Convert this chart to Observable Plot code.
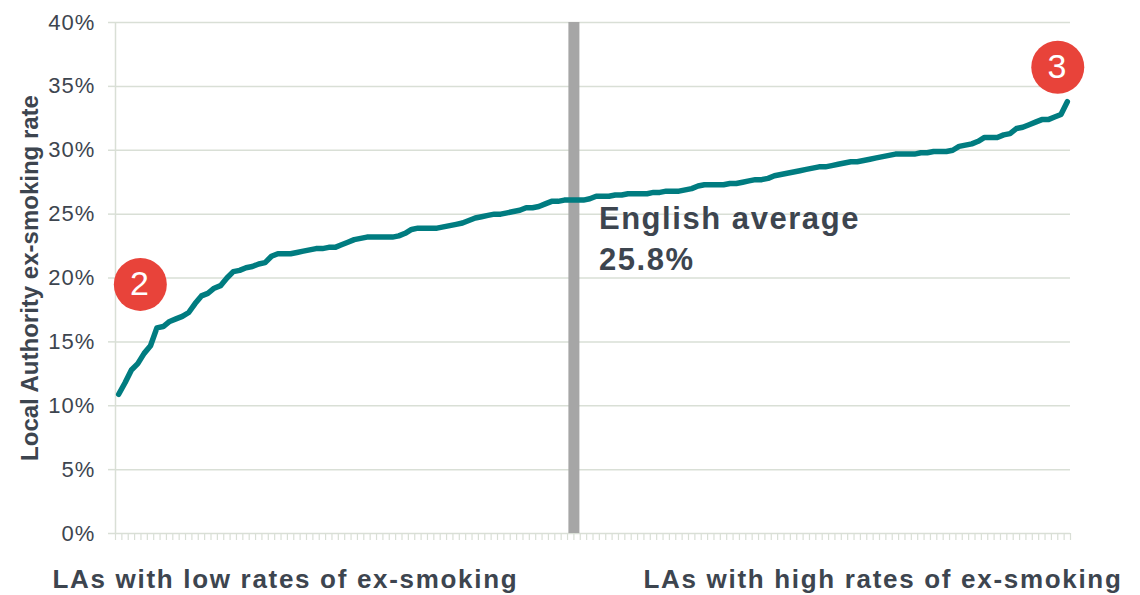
<!DOCTYPE html>
<html>
<head>
<meta charset="utf-8">
<script src="https://cdn.jsdelivr.net/npm/d3@7"></script>
<script src="https://cdn.jsdelivr.net/npm/@observablehq/plot@0.6"></script>
<style>
  html, body { margin: 0; padding: 0; background: #fff; }
</style>
</head>
<body>
<div id="chart"></div>
<script>
// Ex-smoking rate of each Local Authority, sorted from lowest to highest (%)
const rates = [
  10.9, 11.8, 12.8, 13.3, 14.1, 14.7, 16.1, 16.2, 16.6, 16.8,
  17.0, 17.3, 18.0, 18.6, 18.8, 19.2, 19.4, 20.0, 20.5, 20.6,
  20.8, 20.9, 21.1, 21.2, 21.7, 21.9, 21.9, 21.9, 22.0, 22.1,
  22.2, 22.3, 22.3, 22.4, 22.4, 22.6, 22.8, 23.0, 23.1, 23.2,
  23.2, 23.2, 23.2, 23.2, 23.3, 23.5, 23.8, 23.9, 23.9, 23.9,
  23.9, 24.0, 24.1, 24.2, 24.3, 24.5, 24.7, 24.8, 24.9, 25.0,
  25.0, 25.1, 25.2, 25.3, 25.5, 25.5, 25.6, 25.8, 26.0, 26.0,
  26.1, 26.1, 26.1, 26.1, 26.2, 26.4, 26.4, 26.4, 26.5, 26.5,
  26.6, 26.6, 26.6, 26.6, 26.7, 26.7, 26.8, 26.8, 26.8, 26.9,
  27.0, 27.2, 27.3, 27.3, 27.3, 27.3, 27.4, 27.4, 27.5, 27.6,
  27.7, 27.7, 27.8, 28.0, 28.1, 28.2, 28.3, 28.4, 28.5, 28.6,
  28.7, 28.7, 28.8, 28.9, 29.0, 29.1, 29.1, 29.2, 29.3, 29.4,
  29.5, 29.6, 29.7, 29.7, 29.7, 29.7, 29.8, 29.8, 29.9, 29.9,
  29.9, 30.0, 30.3, 30.4, 30.5, 30.7, 31.0, 31.0, 31.0, 31.2,
  31.3, 31.7, 31.8, 32.0, 32.2, 32.4, 32.4, 32.6, 32.8, 33.8
];

// Y axis ticks (%)
const yTicks = [0, 5, 10, 15, 20, 25, 30, 35, 40];

// English average and the rank position where it falls
const englishAverage = 25.8;
const averageRank = 71.5;

// Numbered callouts: rank position, rate position, label
const calloutRank = [3.4, 147.5];
const calloutRate = [19.5, 36.5];
const calloutText = ["2", "3"];

const yLabel = "Local Authority ex-smoking rate";
const lowLabel = "LAs with low rates of ex-smoking";
const highLabel = "LAs with high rates of ex-smoking";

const n = rates.length;
const series = rates.map((rate, rank) => ({rank, rate}));
const boundaries = d3.range(n + 1).map(k => k - 0.5);
const callouts = calloutText.map((text, i) => ({rank: calloutRank[i], rate: calloutRate[i], text}));

const gridColor = "#d9dfd6";
const textColor = "#3d454f";

const chart = Plot.plot({
  width: 1140,
  height: 595,
  marginTop: 22,
  marginBottom: 62,
  marginLeft: 115,
  marginRight: 70,
  style: {fontFamily: "'Liberation Sans', Arial, sans-serif", background: "#fff", overflow: "visible"},
  x: {domain: [-0.5, n - 0.5], axis: null},
  y: {domain: [0, 40], axis: null},
  marks: [
    Plot.gridY(yTicks, {stroke: gridColor, strokeOpacity: 1, strokeWidth: 1.5}),
    Plot.axisY(yTicks, {
      tickSize: 7, tickPadding: 13, stroke: gridColor, strokeWidth: 1.5,
      fill: textColor, fontSize: 22, tickFormat: d => d + "%", label: null
    }),
    Plot.axisX(boundaries, {
      tickSize: 7, stroke: gridColor, strokeWidth: 1.2, tickFormat: () => "", label: null
    }),
    Plot.ruleX([-0.5], {stroke: gridColor, strokeWidth: 1.5}),
    Plot.ruleX([averageRank], {stroke: "#a6a6a6", strokeWidth: 11}),
    Plot.lineY(series, {
      x: "rank", y: "rate", stroke: "#007c80", strokeWidth: 5.5,
      strokeLinejoin: "round", strokeLinecap: "round"
    }),
    Plot.text([`English average\n${englishAverage}%`], {
      x: averageRank, y: englishAverage, text: d => d, dx: 25, dy: -4,
      textAnchor: "start", lineAnchor: "top", lineHeight: 1.32,
      fontSize: 31, fontWeight: "bold", fill: textColor
    }),
    Plot.dot(callouts, {x: "rank", y: "rate", r: 26.5, fill: "#e8433a", stroke: null}),
    Plot.text(callouts, {
      x: "rank", y: "rate", text: "text", fill: "white", fontSize: 34, lineAnchor: "middle"
    }),
    Plot.text([yLabel], {
      text: d => d, frameAnchor: "left", dx: -85, rotate: -90,
      textAnchor: "middle", lineAnchor: "middle",
      fontSize: 24, fontWeight: "bold", fill: textColor
    }),
    Plot.text([lowLabel], {
      text: d => d, frameAnchor: "bottom-left", dx: -63, dy: 46,
      textAnchor: "start", lineAnchor: "middle",
      fontSize: 26, fontWeight: "bold", fill: textColor
    }),
    Plot.text([highLabel], {
      text: d => d, frameAnchor: "bottom-right", dx: 52, dy: 46,
      textAnchor: "end", lineAnchor: "middle",
      fontSize: 26, fontWeight: "bold", fill: textColor
    })
  ]
});

// Wider tracking on the horizontal labels; the bottom captions get a little more
d3.select(chart).selectAll("text")
  .filter(function() { return !(this.getAttribute("transform") || "").includes("rotate"); })
  .style("letter-spacing", function() {
    const t = this.textContent;
    return (t === lowLabel || t === highLabel) ? "0.065em" : "0.05em";
  });

document.getElementById("chart").appendChild(chart);
</script>
</body>
</html>
